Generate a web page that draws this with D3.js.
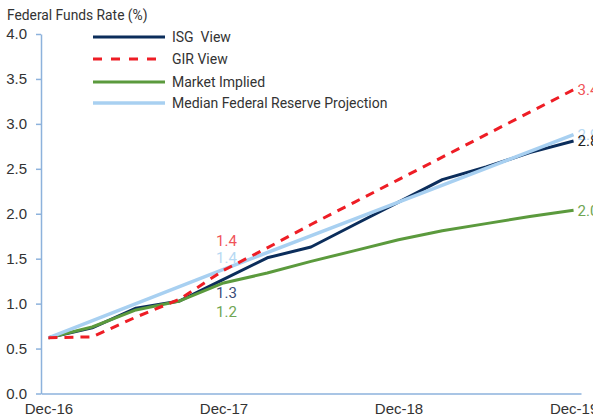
<!DOCTYPE html>
<html>
<head>
<meta charset="utf-8">
<script src="https://cdn.jsdelivr.net/npm/d3@7"></script>
<style>
  body { margin: 0; background: #fff; }
  svg text { font-family: "Liberation Sans Narrow", "Arial Narrow", "Roboto", sans-serif; }
</style>
</head>
<body>
<svg width="593" height="420"></svg>
<script>
// quarterly points, Dec-16 to Dec-19
var quarters = ["Dec-16", "Mar-17", "Jun-17", "Sep-17", "Dec-17", "Mar-18", "Jun-18",
  "Sep-18", "Dec-18", "Mar-19", "Jun-19", "Sep-19", "Dec-19"];
var isgView = [0.62, 0.73, 0.95, 1.03, 1.27, 1.51, 1.63, 1.88, 2.13, 2.38, 2.52, 2.68, 2.81];
var girView = [0.62, 0.63, 0.85, 1.05, 1.37, 1.62, 1.88, 2.13, 2.38, 2.63, 2.88, 3.13, 3.38];
var marketImplied = [0.62, 0.74, 0.93, 1.03, 1.23, 1.34, 1.47, 1.59, 1.71, 1.81, 1.89, 1.97, 2.04];
var medianDates = ["Dec-16", "Dec-17", "Dec-18", "Dec-19"];
var medianFed = [0.62, 1.38, 2.13, 2.88];

var xTicks = ["Dec-16", "Dec-17", "Dec-18", "Dec-19"];
var yTicks = [0, 0.5, 1, 1.5, 2, 2.5, 3, 3.5, 4];

var legendNames = ["ISG  View", "GIR View", "Market Implied", "Median Federal Reserve Projection"];

// label text shown next to lines
var midLabels = [
  { text: "1.4", date: "Dec-17", value: 1.4, key: "gir" },
  { text: "1.4", date: "Dec-17", value: 1.4, key: "median" },
  { text: "1.3", date: "Dec-17", value: 1.3, key: "isg" },
  { text: "1.2", date: "Dec-17", value: 1.2, key: "market" }
];
var endLabels = [
  { text: "3.4", value: 3.38, key: "gir" },
  { text: "2.9", value: 2.88, key: "median" },
  { text: "2.8", value: 2.81, key: "isg" },
  { text: "2.0", value: 2.04, key: "market" }
];

var colors = {
  isg: "#0b2d5b",
  gir: "#ee1d25",
  market: "#5b9a3d",
  median: "#a8d0f1"
};
var labelColors = {
  isg: "#3c4d78",
  gir: "#f05359",
  market: "#6fa653",
  median: "#b7d9f3"
};

var svg = d3.select("svg");

var x = d3.scalePoint().domain(quarters).range([41, 581]).padding(0.17);
var y = d3.scaleLinear().domain([0, 4]).range([393.5, 34]);

// title
svg.append("text")
  .attr("x", 7)
  .attr("y", 20)
  .attr("font-size", "13.8px")
  .attr("fill", "#333")
  .text("Federal Funds Rate (%)");

// y axis
var yAxis = svg.append("g")
  .attr("transform", "translate(41,0)")
  .call(d3.axisLeft(y).tickValues(yTicks).tickFormat(d3.format(".1f")).tickSize(5).tickSizeOuter(0));
yAxis.select(".domain").attr("stroke", "#8db2dc").attr("stroke-width", 1.5);
yAxis.selectAll(".tick line").attr("stroke", "#8db2dc").attr("stroke-width", 1.5);
yAxis.selectAll(".tick text")
  .attr("x", -14)
  .attr("font-size", "15px")
  .attr("fill", "#333")
  .style("font-family", "'Liberation Sans Narrow', 'Arial Narrow', sans-serif");

// x axis
var xAxis = svg.append("g")
  .attr("transform", "translate(0,393.5)")
  .call(d3.axisBottom(x).tickValues(xTicks).tickSize(0).tickSizeOuter(0));
xAxis.select(".domain").attr("stroke", "#8db2dc").attr("stroke-width", 1.5);
xAxis.selectAll(".tick text")
  .attr("y", 10)
  .attr("font-size", "15px")
  .attr("fill", "#333")
  .style("font-family", "'Liberation Sans Narrow', 'Arial Narrow', sans-serif");

var line = d3.line()
  .x((d) => x(d.date))
  .y((d) => y(d.value));

function toPoints(dates, values) {
  return dates.map((dt, i) => ({ date: dt, value: values[i] }));
}

var series = [
  { key: "isg", pts: toPoints(quarters, isgView), width: 3, dash: null },
  { key: "market", pts: toPoints(quarters, marketImplied), width: 3, dash: null },
  { key: "median", pts: toPoints(medianDates, medianFed), width: 3.5, dash: null },
  { key: "gir", pts: toPoints(quarters, girView), width: 3, dash: "9,7" }
];

svg.append("g").selectAll("path")
  .data(series)
  .enter()
  .append("path")
  .attr("d", (d) => line(d.pts))
  .attr("fill", "none")
  .attr("stroke", (d) => colors[d.key])
  .attr("stroke-width", (d) => d.width)
  .attr("stroke-dasharray", (d) => d.dash)
  .attr("stroke-linejoin", "round");

// labels at Dec-17
var midOffsets = { gir: 246, median: 263, isg: 298, market: 317 };
svg.append("g").selectAll("text")
  .data(midLabels)
  .enter()
  .append("text")
  .attr("x", (d) => x(d.date) + 3)
  .attr("y", (d) => midOffsets[d.key])
  .attr("text-anchor", "middle")
  .attr("font-size", "15px")
  .attr("fill", (d) => labelColors[d.key])
  .text((d) => d.text);

// labels at the end
var endColors = { isg: "#222", gir: "#f05359", market: "#6fa653", median: "#b7d9f3" };
svg.append("g").selectAll("text")
  .data(endLabels)
  .enter()
  .append("text")
  .attr("x", x("Dec-19") + 4)
  .attr("y", (d) => y(d.value) + 5.5)
  .attr("font-size", "15px")
  .attr("fill", (d) => endColors[d.key])
  .text((d) => d.text);

// legend
var legendKeys = ["isg", "gir", "market", "median"];
var legendY = [37, 59, 82, 103];
var legend = svg.append("g").selectAll("g")
  .data(legendKeys)
  .enter()
  .append("g")
  .attr("transform", (d, i) => "translate(93," + legendY[i] + ")");
legend.append("line")
  .attr("x1", 0)
  .attr("x2", 72)
  .attr("stroke", (d) => colors[d])
  .attr("stroke-width", (d) => (d === "median" ? 3.5 : 3))
  .attr("stroke-dasharray", (d) => (d === "gir" ? "9,9" : null));
legend.append("text")
  .attr("x", 79)
  .attr("y", 5)
  .attr("font-size", "14px")
  .attr("fill", "#333")
  .style("white-space", "pre")
  .text((d, i) => legendNames[i]);
</script>
</body>
</html>
